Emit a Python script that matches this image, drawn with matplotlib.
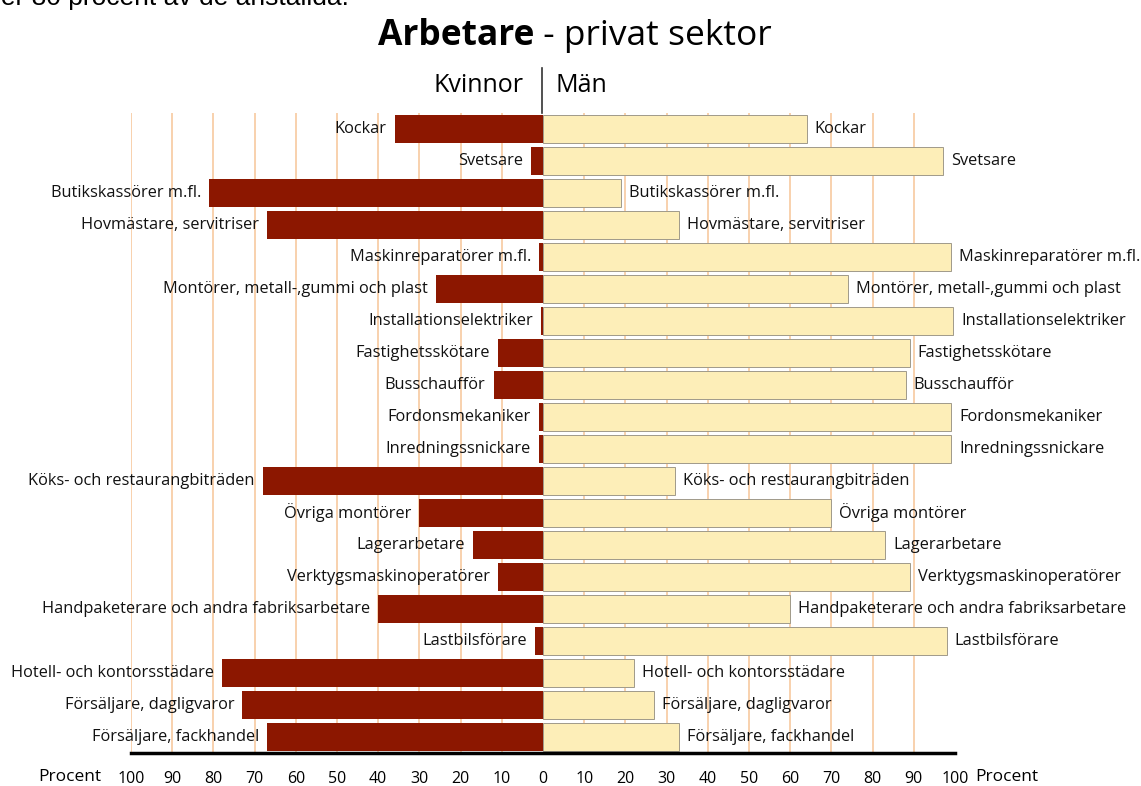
import matplotlib
matplotlib.use('Agg')
import matplotlib.pyplot as plt
from matplotlib.lines import Line2D
import numpy as np

categories = [
    "Kockar", "Svetsare", "Butikskassörer m.fl.", "Hovmästare, servitriser",
    "Maskinreparatörer m.fl.", "Montörer, metall-,gummi och plast",
    "Installationselektriker", "Fastighetsskötare", "Busschaufför",
    "Fordonsmekaniker", "Inredningssnickare", "Köks- och restaurangbiträden",
    "Övriga montörer", "Lagerarbetare", "Verktygsmaskinoperatörer",
    "Handpaketerare och andra fabriksarbetare", "Lastbilsförare",
    "Hotell- och kontorsstädare", "Försäljare, dagligvaror", "Försäljare, fackhandel",
]
women = [36, 3, 81, 67, 1, 26, 0.5, 11, 12, 1, 1, 68, 30, 17, 11, 40, 2, 78, 73, 67]
men = [64, 97, 19, 33, 99, 74, 99.5, 89, 88, 99, 99, 32, 70, 83, 89, 60, 98, 22, 27, 33]
tick_values = [-100, -90, -80, -70, -60, -50, -40, -30, -20, -10, 0,
               10, 20, 30, 40, 50, 60, 70, 80, 90, 100]
tick_labels = ["100", "90", "80", "70", "60", "50", "40", "30", "20", "10", "0",
               "10", "20", "30", "40", "50", "60", "70", "80", "90", "100"]

W, H = 1141, 786
FONT = "Open Sans"
plt.rcParams['font.family'] = [FONT, 'DejaVu Sans']

fig = plt.figure(figsize=(W / 100, H / 100), dpi=100)
ax = fig.add_axes([131 / W, 33 / H, (955 - 131) / W, 640 / H])

WOMEN_C = '#8c1700'
MEN_C = '#fdeeb8'
n = len(categories)
ypos = np.arange(n)

ax.barh(ypos, [-v for v in women], height=0.87, color=WOMEN_C, zorder=3)
ax.barh(ypos, men, height=0.87, color=MEN_C, edgecolor='#a09a8a', linewidth=0.7, zorder=3)

ax.set_xlim(-100, 100)
ax.set_ylim(n - 0.5, -0.5)
ax.set_yticks([])
ax.set_xticks(tick_values)
ax.set_xticklabels(tick_labels, fontsize=11.5)
ax.tick_params(axis='x', length=0, pad=13)
for gx in tick_values:
    if gx == 0 or gx == 100:
        continue
    ax.axvline(gx, color='#f7caa0', lw=1.2, zorder=1)
for s in ['top', 'left', 'right']:
    ax.spines[s].set_visible(False)
ax.spines['bottom'].set_linewidth(2.5)
ax.spines['bottom'].set_color('black')
ax.spines['bottom'].set_zorder(4)

LABEL_FS = 11.8
for i, (cat, w, m) in enumerate(zip(categories, women, men)):
    ax.annotate(cat, xy=(-w, i), xytext=(-8, 0), textcoords='offset pixels',
                ha='right', va='center', fontsize=LABEL_FS, color='#111111', zorder=5)
    ax.annotate(cat, xy=(m, i), xytext=(8, 0), textcoords='offset pixels',
                ha='left', va='center', fontsize=LABEL_FS, color='#111111', zorder=5)

# axis unit labels
ax.annotate("Procent", xy=(0, 0), xycoords='axes fraction', xytext=(-30, -24),
            textcoords='offset pixels', ha='right', va='center', fontsize=12.5)
ax.annotate("Procent", xy=(1, 0), xycoords='axes fraction', xytext=(20, -24),
            textcoords='offset pixels', ha='left', va='center', fontsize=12.5)

# header
fig.text(523 / W, 1 - 86 / H, "Kvinnor", ha='right', va='center', fontsize=18)
fig.text(555 / W, 1 - 86 / H, "Män", ha='left', va='center', fontsize=18)
fig.add_artist(Line2D([542 / W, 542 / W], [1 - 68 / H, 1 - 113 / H], color='#333333', lw=1.2))

# title, bold + regular, centered
renderer = fig.canvas.get_renderer()
t1 = fig.text(0, 1 - 45 / H, "Arbetare", fontsize=25.5, fontweight='bold', ha='left', va='baseline')
t2 = fig.text(0, 1 - 45 / H, " - privat sektor", fontsize=25.5, ha='left', va='baseline')
w1 = t1.get_window_extent(renderer).width
w2 = t2.get_window_extent(renderer).width
x0 = 575 - (w1 + w2) / 2
t1.set_x(x0 / W)
t2.set_x((x0 + w1) / W)

# cut-off body text at the very top (as in the source image)
fig.text(-27 / W, 1 - 5 / H, "över 80 procent av de anställda.", fontsize=19,
         family=['Liberation Sans', 'DejaVu Sans'], ha='left', va='baseline')

fig.savefig('out.png', dpi=100)
